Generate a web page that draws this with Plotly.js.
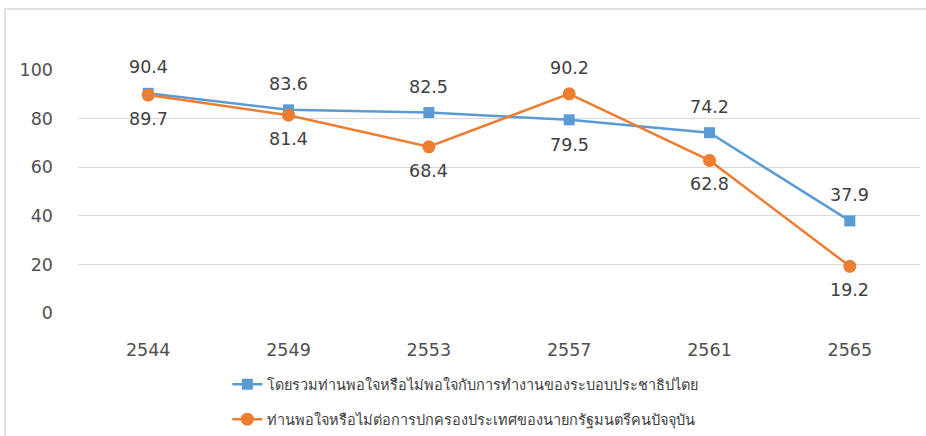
<!DOCTYPE html>
<html><head><meta charset="utf-8">
<script src="https://cdn.plot.ly/plotly-3.0.1.min.js"></script>
<style>
html,body{margin:0;padding:0;background:#fff;}
#wrap{position:relative;width:926px;height:436px;}
#chart{width:926px;height:436px;}
#bt{position:absolute;left:4px;top:8px;width:922px;height:2px;background:#e2e2e2;pointer-events:none;}
#bl{position:absolute;left:4px;top:8px;width:2px;height:428px;background:#e2e2e2;pointer-events:none;}
</style></head>
<body><div id="wrap"><div id="chart"></div><div id="bt"></div><div id="bl"></div></div>
<script>
const years = ['2544','2549','2553','2557','2561','2565'];
const seriesA = [90.4, 83.6, 82.5, 79.5, 74.2, 37.9];
const seriesB = [89.7, 81.4, 68.4, 90.2, 62.8, 19.2];
const nameA = 'โดยรวมท่านพอใจหรือไม่พอใจกับการทำงานของระบอบประชาธิปไตย';
const nameB = 'ท่านพอใจหรือไม่ต่อการปกครองประเทศของนายกรัฐมนตรีคนปัจจุบัน';
const yTicks = [0, 20, 40, 60, 80, 100];

const blue = '#5B9BD5', orange = '#ED7D31';
const numFont = '"DejaVu Sans", sans-serif';
const legFont = '"Noto Sans", "Open Sans", sans-serif';

const traces = [
  {x: years, y: seriesA, name: nameA, legendgroup: 'a', type: 'scatter', mode: 'lines+markers',
   line: {color: blue, width: 2.5}, marker: {symbol: 'square', size: 11, color: blue}},
  {x: years, y: seriesB, name: nameB, legendgroup: 'b', type: 'scatter', mode: 'lines+markers',
   line: {color: orange, width: 2.5}, marker: {symbol: 'circle', size: 13, color: orange}}
];

const annotations = [];
years.forEach((yr, i) => {
  const aAbove = seriesA[i] >= seriesB[i];
  annotations.push({x: i, y: seriesA[i], text: seriesA[i].toFixed(1), showarrow: false,
    yshift: aAbove ? 26 : -25, font: {size: 17.5, color: '#404040', family: numFont}});
  annotations.push({x: i, y: seriesB[i], text: seriesB[i].toFixed(1), showarrow: false,
    yshift: aAbove ? -24 : 26, font: {size: 17.5, color: '#404040', family: numFont}});
});

const layout = {
  width: 926, height: 436,
  margin: {l: 78, r: 6, t: 70, b: 123},
  paper_bgcolor: '#fff', plot_bgcolor: '#fff',
  showlegend: true,
  legend: {orientation: 'v', x: 0.46, xanchor: 'center', yref: 'container', y: 0.155, yanchor: 'top',
    font: {size: 14.5, color: '#404040', family: legFont}, tracegroupgap: 13, itemwidth: 30},
  xaxis: {type: 'category', categoryorder: 'array', categoryarray: years, range: [-0.5, years.length - 0.5],
    showgrid: false, showline: false, zeroline: false,
    ticks: '', ticklabelstandoff: 24, tickfont: {size: 17.5, color: '#505050', family: numFont}},
  yaxis: {range: [0, 100], tickvals: yTicks, showgrid: true, gridcolor: '#d9d9d9', gridwidth: 1,
    zeroline: false, showline: false, ticks: '', ticklabelstandoff: 24,
    tickfont: {size: 17.5, color: '#505050', family: numFont}},
  annotations: annotations
};

Plotly.newPlot('chart', traces, layout, {displayModeBar: false, staticPlot: true});
</script></body></html>
